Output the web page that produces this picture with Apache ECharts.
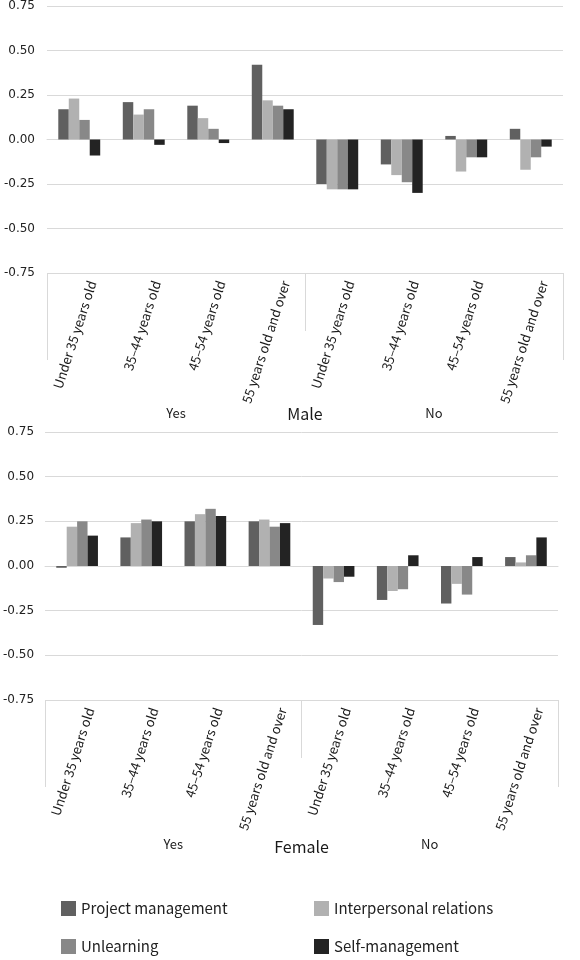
<!DOCTYPE html>
<html>
<head>
<meta charset="utf-8">
<script src="https://cdn.jsdelivr.net/npm/echarts@6/dist/echarts.min.js"></script>
<style>
  html, body { margin: 0; padding: 0; background: #fff; }
  #main { width: 580px; height: 960px; }
</style>
</head>
<body>
<div id="main"></div>
<script>
// 数据
const ageGroups = ['Under 35 years old', '35–44 years old', '45–54 years old', '55 years old and over'];
const categories = ageGroups.concat(ageGroups);
const answerGroups = ['Yes', 'No'];
const seriesNames = ['Project management', 'Interpersonal relations', 'Unlearning', 'Self-management'];
const seriesColors = ['#606060', '#b1b1b1', '#888888', '#232323'];

// Male: Yes x4, No x4
const maleProject = [0.17, 0.21, 0.19, 0.42, -0.25, -0.14, 0.02, 0.06];
const maleInterpersonal = [0.23, 0.14, 0.12, 0.22, -0.28, -0.20, -0.18, -0.17];
const maleUnlearning = [0.11, 0.17, 0.06, 0.19, -0.28, -0.24, -0.10, -0.10];
const maleSelf = [-0.09, -0.03, -0.02, 0.17, -0.28, -0.30, -0.10, -0.04];

// Female
const femaleProject = [-0.01, 0.16, 0.25, 0.25, -0.33, -0.19, -0.21, 0.05];
const femaleInterpersonal = [0.22, 0.24, 0.29, 0.26, -0.07, -0.14, -0.10, 0.02];
const femaleUnlearning = [0.25, 0.26, 0.32, 0.22, -0.09, -0.13, -0.16, 0.06];
const femaleSelf = [0.17, 0.25, 0.28, 0.24, -0.06, 0.06, 0.05, 0.16];

const maleData = [maleProject, maleInterpersonal, maleUnlearning, maleSelf];
const femaleData = [femaleProject, femaleInterpersonal, femaleUnlearning, femaleSelf];

const FONT = '"Noto Sans CJK JP", "Noto Sans", sans-serif';
const LINE = '#d9d9d9';

// 坐标轴
function xAxes(gridIndex, gender, answerMargin, genderMargin) {
  return [
    {
      type: 'category', gridIndex, data: categories, position: 'bottom',
      axisLine: { show: true, lineStyle: { color: LINE } },
      axisTick: { show: false },
      axisLabel: {
        rotate: 72, margin: 4, interval: 0, verticalAlign: 'top', padding: [7, 0, 0, 0],
        fontSize: 13, fontFamily: FONT, color: '#1a1a1a',
      },
    },
    {
      type: 'category', gridIndex, data: answerGroups, position: 'bottom', offset: 58,
      axisLine: { show: false },
      axisTick: { show: true, inside: true, length: 58, lineStyle: { color: LINE } },
      axisLabel: { margin: answerMargin, fontSize: 13, fontFamily: FONT, color: '#1a1a1a' },
    },
    {
      type: 'category', gridIndex, data: [gender], position: 'bottom', offset: 87,
      axisLine: { show: false },
      axisTick: { show: true, inside: true, length: 87, lineStyle: { color: LINE } },
      axisLabel: { margin: genderMargin, fontSize: 16, fontFamily: FONT, color: '#1a1a1a' },
    },
  ];
}

function yAxis(gridIndex, margin) {
  return {
    type: 'value', gridIndex, min: -0.75, max: 0.75, interval: 0.25,
    axisLine: { show: false }, axisTick: { show: false },
    splitLine: { lineStyle: { color: LINE } },
    axisLabel: {
      margin, fontSize: 12, fontFamily: '"DejaVu Sans", sans-serif', color: '#222',
      formatter: (v) => v.toFixed(2),
    },
  };
}

function barSeries(data, xAxisIndex, yAxisIndex) {
  return data.map((values, i) => ({
    name: seriesNames[i], type: 'bar', xAxisIndex, yAxisIndex,
    data: values, barGap: '0%', barCategoryGap: '35%',
    itemStyle: { color: seriesColors[i] },
  }));
}

// 图例: 2x2
function legendItem(name, left, top) {
  return {
    data: [name], left, top, itemWidth: 15, itemHeight: 15, icon: 'rect',
    textStyle: { fontSize: 15, fontFamily: FONT, color: '#222' },
  };
}

const option = {
  animation: false,
  color: seriesColors,
  grid: [
    { left: 47, right: 17, top: 4, height: 269 },
    { left: 43, right: 22, top: 432, height: 268 },
  ],
  xAxis: xAxes(0, 'Male', 76, 46).concat(xAxes(1, 'Female', 80, 52)),
  yAxis: [yAxis(0, 12), yAxis(1, 11)],
  legend: [
    legendItem(seriesNames[0], 56, 896),
    legendItem(seriesNames[1], 309, 896),
    legendItem(seriesNames[2], 56, 934),
    legendItem(seriesNames[3], 309, 934),
  ],
  series: barSeries(maleData, 0, 0).concat(barSeries(femaleData, 3, 1)),
};

// 绘制图表
const myChart = echarts.init(document.getElementById('main'));
myChart.setOption(option);
</script>
</body>
</html>
